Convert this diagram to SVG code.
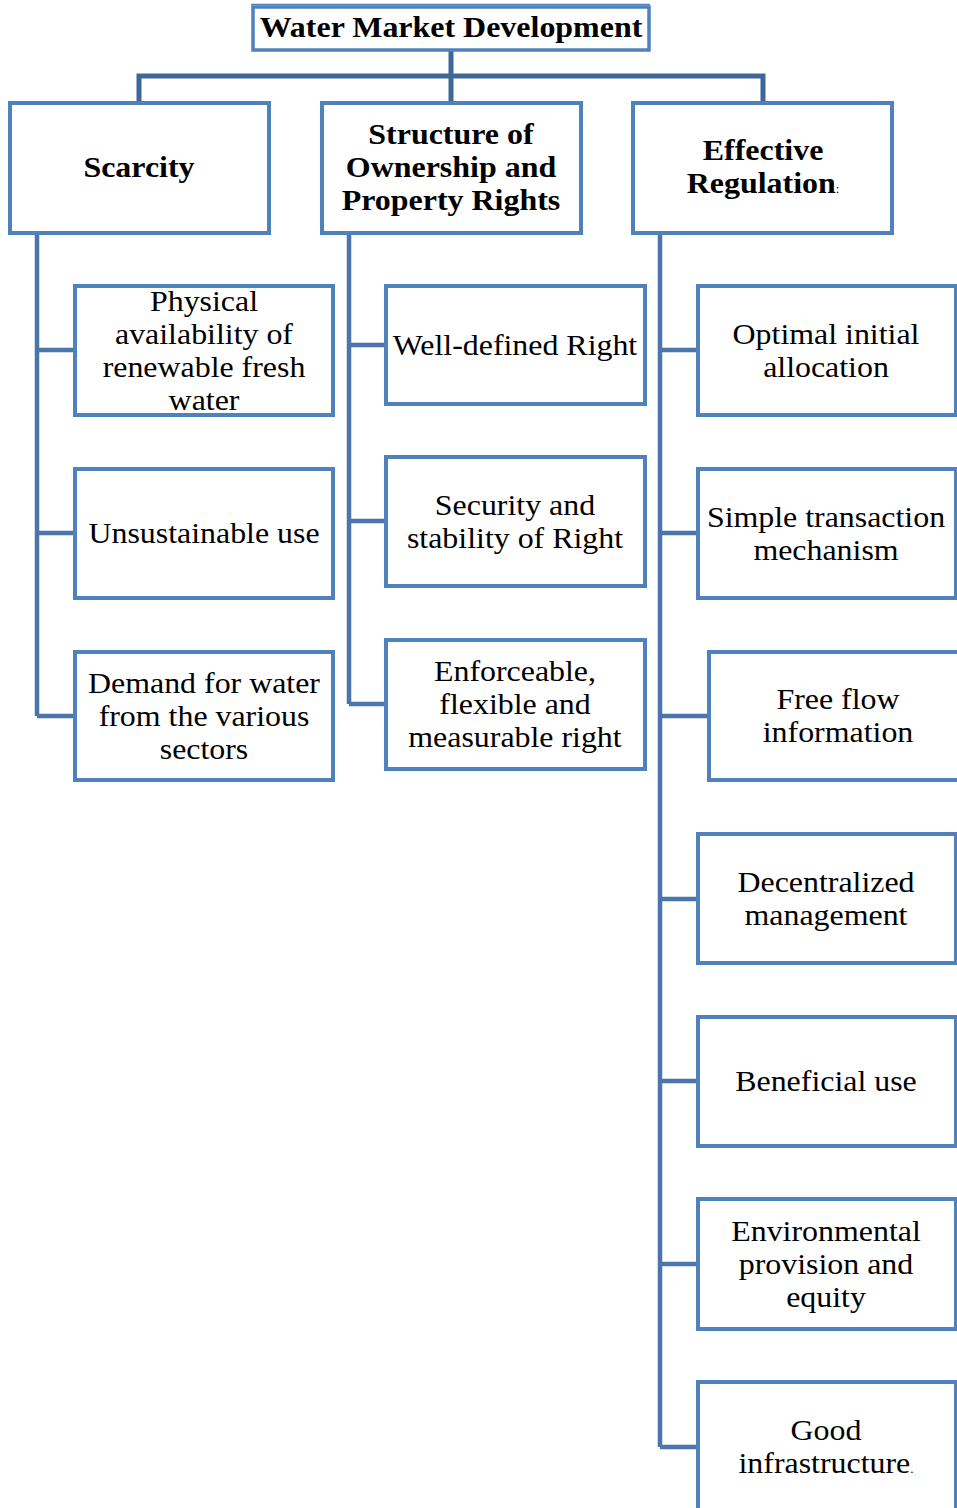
<svg xmlns="http://www.w3.org/2000/svg" width="957" height="1508" viewBox="0 0 957 1508">
<style>
.box{fill:#fff;stroke:#4F81BD;stroke-width:4}
.tbox{fill:#fff;stroke:#4F81BD;stroke-width:3.5}
.con{fill:none;stroke:#4A76AC;stroke-width:4.5}
.top{fill:none;stroke:#3F6899;stroke-width:5}
.t{font-family:"Liberation Serif","Times New Roman",serif;font-size:29px;fill:#000;text-anchor:middle}
.h{font-family:"Liberation Serif","Times New Roman",serif;font-size:30px;font-weight:bold;fill:#000;text-anchor:middle}
.s{font-size:12px;font-weight:normal}
</style>
<rect width="957" height="1508" fill="#fff"/>
<g id="connectors">
<path class="top" d="M451 50V76M139 102V76H763V102M451 76V102"/>
<path class="con" d="M37 233V716M37 350H75M37 533H75M37 716H75"/>
<path class="con" d="M349 233V704M349 345H386M349 521H386M349 704H386"/>
<path class="con" d="M660 233V1447M660 350H698M660 533H698M660 716H709M660 899H698M660 1081H698M660 1264H698M660 1447H698"/>
</g>
<g id="title"><line x1="251" y1="4.5" x2="650" y2="4.5" stroke="#4F81BD" stroke-width="1.5"/><rect class="tbox" x="253" y="7" width="396" height="43"/><text class="h" transform="translate(451 37) scale(1.065 1)">Water Market Development</text></g>
<g id="scarcity"><rect class="box" x="10" y="103" width="259" height="130"/><text class="h" transform="translate(139 177) scale(1.065 1)">Scarcity</text></g>
<g id="structure"><rect class="box" x="322" y="103" width="259" height="130"/><text class="h" transform="translate(451 144) scale(1.065 1)">Structure of</text><text class="h" transform="translate(451 177) scale(1.065 1)">Ownership and</text><text class="h" transform="translate(451 210) scale(1.065 1)">Property Rights</text></g>
<g id="regulation"><rect class="box" x="633" y="103" width="259" height="130"/><text class="h" transform="translate(763 160) scale(1.065 1)">Effective</text><text class="h" transform="translate(763 193) scale(1.065 1)">Regulation<tspan class="s">:</tspan></text></g>
<g id="physical"><rect class="box" x="75" y="286" width="258" height="129"/><text class="t" transform="translate(204 311) scale(1.1 1)">Physical</text><text class="t" transform="translate(204 344) scale(1.1 1)">availability of</text><text class="t" transform="translate(204 377) scale(1.1 1)">renewable fresh</text><text class="t" transform="translate(204 410) scale(1.1 1)">water</text></g>
<g id="unsustainable"><rect class="box" x="75" y="469" width="258" height="129"/><text class="t" transform="translate(204 543) scale(1.1 1)">Unsustainable use</text></g>
<g id="demand"><rect class="box" x="75" y="652" width="258" height="128"/><text class="t" transform="translate(204 693) scale(1.1 1)">Demand for water</text><text class="t" transform="translate(204 726) scale(1.1 1)">from the various</text><text class="t" transform="translate(204 759) scale(1.1 1)">sectors</text></g>
<g id="welldefined"><rect class="box" x="386" y="286" width="259" height="118"/><text class="t" transform="translate(515 355) scale(1.1 1)">Well-defined Right</text></g>
<g id="security"><rect class="box" x="386" y="457" width="259" height="129"/><text class="t" transform="translate(515 515) scale(1.1 1)">Security and</text><text class="t" transform="translate(515 548) scale(1.1 1)">stability of Right</text></g>
<g id="enforceable"><rect class="box" x="386" y="640" width="259" height="129"/><text class="t" transform="translate(515 681) scale(1.1 1)">Enforceable,</text><text class="t" transform="translate(515 714) scale(1.1 1)">flexible and</text><text class="t" transform="translate(515 747) scale(1.1 1)">measurable right</text></g>
<g id="optimal"><rect class="box" x="698" y="286" width="258" height="129"/><text class="t" transform="translate(826 344) scale(1.1 1)">Optimal initial</text><text class="t" transform="translate(826 377) scale(1.1 1)">allocation</text></g>
<g id="simple"><rect class="box" x="698" y="469" width="258" height="129"/><text class="t" transform="translate(826 527) scale(1.1 1)">Simple transaction</text><text class="t" transform="translate(826 560) scale(1.1 1)">mechanism</text></g>
<g id="freeflow"><rect class="box" x="709" y="652" width="250" height="128"/><text class="t" transform="translate(838 709) scale(1.1 1)">Free flow</text><text class="t" transform="translate(838 742) scale(1.1 1)">information</text></g>
<g id="decentralized"><rect class="box" x="698" y="834" width="258" height="129"/><text class="t" transform="translate(826 892) scale(1.1 1)">Decentralized</text><text class="t" transform="translate(826 925) scale(1.1 1)">management</text></g>
<g id="beneficial"><rect class="box" x="698" y="1017" width="258" height="129"/><text class="t" transform="translate(826 1091) scale(1.1 1)">Beneficial use</text></g>
<g id="environmental"><rect class="box" x="698" y="1199" width="258" height="130"/><text class="t" transform="translate(826 1241) scale(1.1 1)">Environmental</text><text class="t" transform="translate(826 1274) scale(1.1 1)">provision and</text><text class="t" transform="translate(826 1307) scale(1.1 1)">equity</text></g>
<g id="infrastructure"><rect class="box" x="698" y="1382" width="258" height="140"/><text class="t" transform="translate(826 1440) scale(1.1 1)">Good</text><text class="t" transform="translate(826 1473) scale(1.1 1)">infrastructure<tspan class="s">.</tspan></text></g>
</svg>
